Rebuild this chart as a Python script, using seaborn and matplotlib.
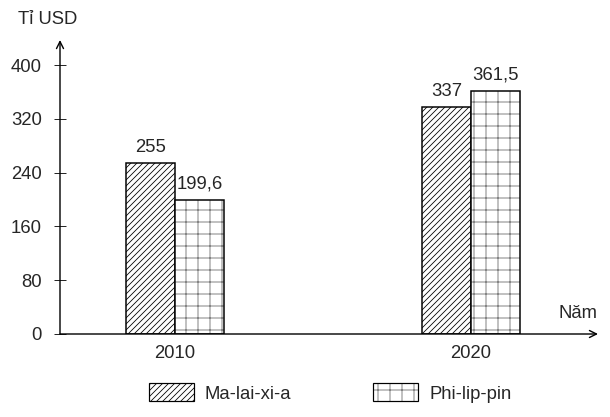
import matplotlib
matplotlib.use('Agg')
import matplotlib.pyplot as plt
import matplotlib.colors as mcolors
from matplotlib.patches import Patch
import pandas as pd
import seaborn as sns

# số liệu
years = ['2010', '2020']
countries = ['Ma-lai-xi-a', 'Phi-lip-pin']
malaysia = [255, 337]
philippines = [199.6, 361.5]
yticks = [0, 80, 160, 240, 320, 400]

hatches = ['////', '+']
hatch_colors = ['black', '#666666']

df = pd.DataFrame({
    'Năm': years * 2,
    'Giá trị': malaysia + philippines,
    'Quốc gia': [countries[0]] * len(years) + [countries[1]] * len(years),
})

sns.set_style('white')
plt.rcParams['font.family'] = ['Liberation Sans', 'DejaVu Sans']
plt.rcParams['hatch.linewidth'] = 0.8
fs = 18.5

W, H = 610, 417
fig = plt.figure(figsize=(W / 72, H / 72), dpi=72)
ax = fig.add_axes([60 / W, (H - 334) / H, 538 / W, (334 - 40) / H])

sns.barplot(data=df, x='Năm', y='Giá trị', hue='Quốc gia',
            palette=['white', 'white'], saturation=1, width=0.331,
            edgecolor='black', linewidth=1.5, legend=False, ax=ax)

for cont, h, hc in zip(ax.containers, hatches, hatch_colors):
    for bar in cont:
        bar.set_hatch(h)
        if hasattr(bar, 'set_hatchcolor'):
            bar.set_hatchcolor(hc)
        else:
            bar._hatch_color = mcolors.to_rgba(hc)
    labels = [f'{v:g}'.replace('.', ',') for v in cont.datavalues]
    ax.bar_label(cont, labels=labels, padding=7, fontsize=fs)

ax.set_xlim(-0.389, 1.429)
ax.set_ylim(0, (334 - 40) / 0.6725)
ax.set_yticks(yticks)
ax.set_xlabel('')
ax.set_ylabel('')
for s in ax.spines.values():
    s.set_visible(False)
ax.tick_params(axis='y', direction='inout', length=12, width=1,
               labelsize=fs, pad=12, left=True)
ax.tick_params(axis='x', length=0, labelsize=fs, pad=11)

# trục có mũi tên
arrow = dict(arrowstyle='->,head_length=0.7,head_width=0.35', lw=1.4, color='black',
             shrinkA=0, shrinkB=0)
ax.annotate('', xy=(0, 1), xytext=(0, 0), xycoords='axes fraction', arrowprops=arrow)
ax.annotate('', xy=(1, 0), xytext=(0, 0), xycoords='axes fraction', arrowprops=arrow)

fig.text(18 / W, 1 - 19 / H, 'Tỉ USD', fontsize=fs, va='center', ha='left')
fig.text(598 / W, 1 - 313 / H, 'Năm', fontsize=fs, va='center', ha='right')

handles = [Patch(facecolor='white', edgecolor='black', hatch=h, linewidth=1.2)
           for h in hatches]
leg = fig.legend(handles, countries, loc='center', ncol=2, frameon=False,
                 bbox_to_anchor=(330 / W, 1 - 393 / H), fontsize=fs,
                 handlelength=2.45, handleheight=1.1, handletextpad=0.6,
                 columnspacing=4.4)
for p, hc in zip(leg.get_patches(), hatch_colors):
    if hasattr(p, 'set_hatchcolor'):
        p.set_hatchcolor(hc)
    else:
        p._hatch_color = mcolors.to_rgba(hc)

fig.savefig('out.png', dpi=72)
